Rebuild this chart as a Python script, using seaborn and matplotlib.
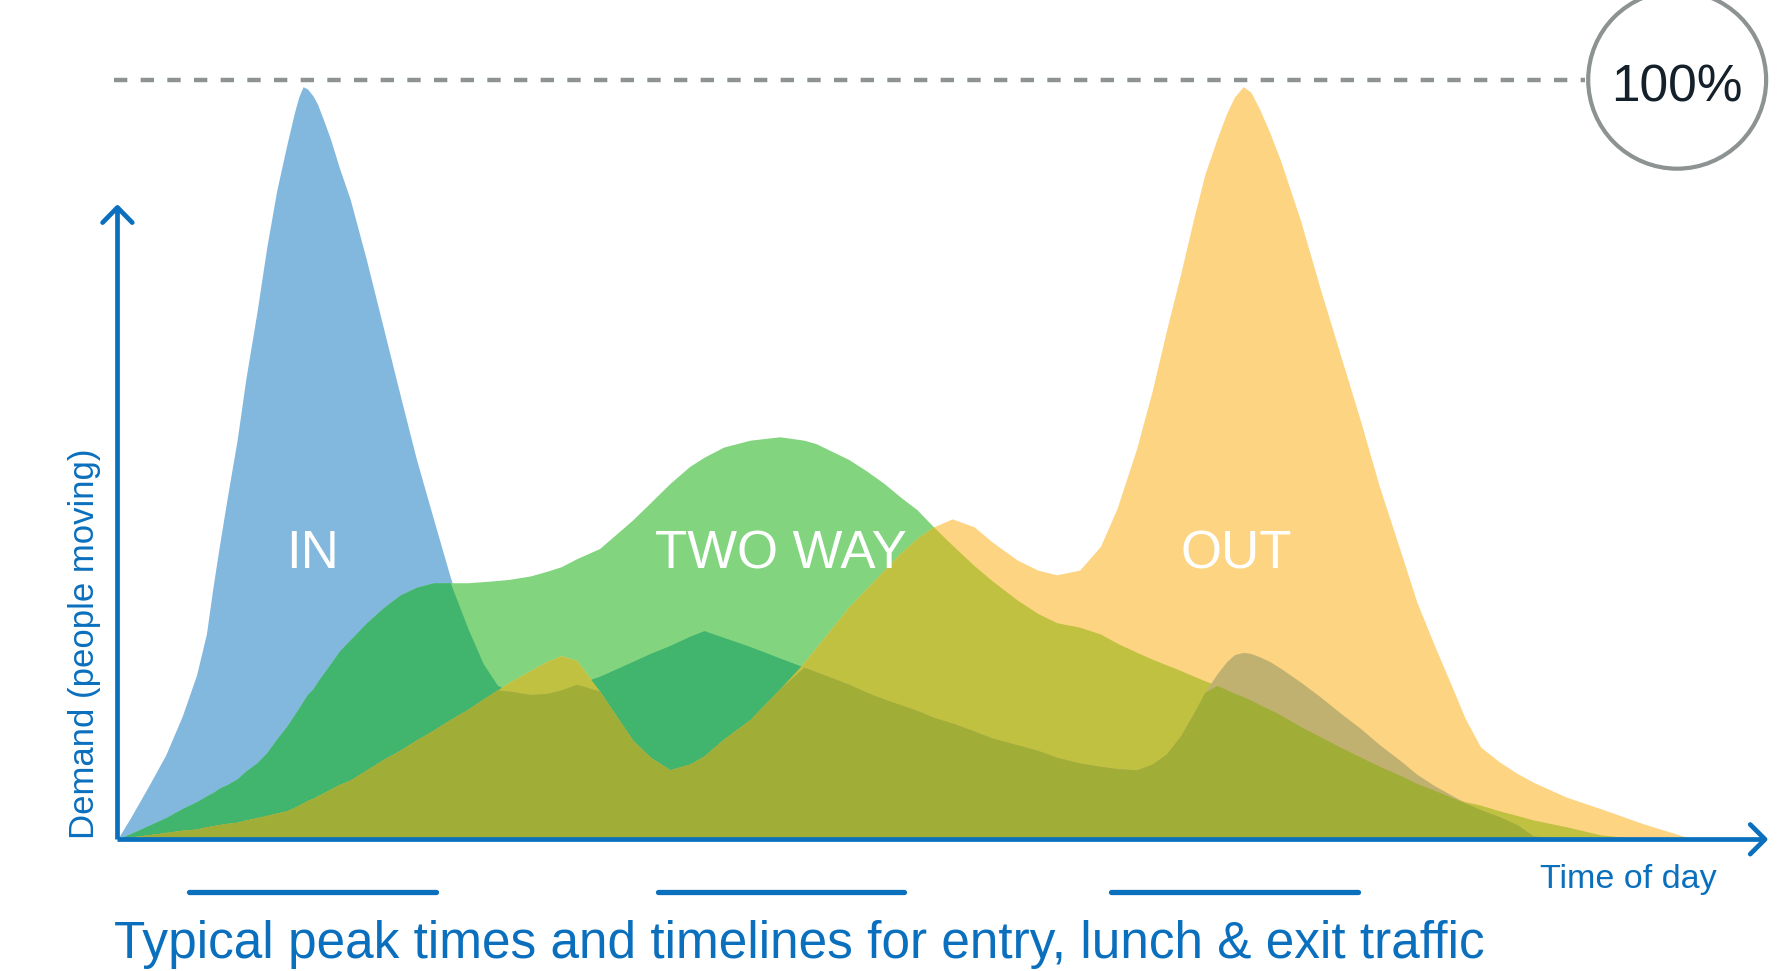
import matplotlib
matplotlib.use("Agg")
import matplotlib.pyplot as plt
from matplotlib.patches import Ellipse
import numpy as np
import pandas as pd
import seaborn as sns

# time of day (hours) shared by the three demand curves
HOURS = [6.00, 6.12, 6.28, 6.44, 6.59, 6.72, 6.81, 6.87, 6.93, 7.00,
         7.09, 7.17, 7.27, 7.36, 7.45, 7.54, 7.61, 7.65, 7.69, 7.73,
         7.78, 7.82, 7.88, 7.94, 8.02, 8.12, 8.27, 8.42, 8.57, 8.72,
         8.88, 9.03, 9.19, 9.33, 9.46, 9.57, 9.76, 9.91, 10.04, 10.18,
         10.39, 10.69, 10.85, 11.03, 11.21, 11.34, 11.52, 11.76, 12.03, 12.25,
         12.36, 12.66, 12.82, 12.98, 13.13, 13.28, 13.43, 13.60, 13.80, 13.96,
         14.19, 14.38, 14.55, 14.76, 14.95, 15.10, 15.28, 15.42, 15.55, 15.68,
         15.80, 15.90, 16.01, 16.10, 16.17, 16.25, 16.32, 16.40, 16.49, 16.59,
         16.77, 16.95, 17.13, 17.32, 17.49, 17.68, 17.83, 17.99, 18.14, 18.27,
         18.41, 18.58, 18.74, 18.89, 19.19, 19.50, 19.88, 20.35, 21.00]

# demand, % of the 100 % line
IN_DEMAND = [0, 2.85, 6.91, 11.11, 16.22, 21.62, 27.03, 33.2, 38.8, 45.0,
             52.6, 60.7, 69.4, 78.0, 85.4, 91.3, 95.6, 97.7, 99.10, 98.80,
             97.90, 96.85, 94.59, 92.19, 88.44, 84.23, 76.13, 67.42, 58.71, 50.15,
             42.04, 34.53, 27.78, 23.12, 20.27, 19.52, 19.07, 19.22, 19.67, 20.42,
             21.47, 23.42, 24.47, 25.53, 26.73, 27.48, 26.58, 25.38, 23.87, 22.67,
             22.07, 20.42, 19.37, 18.47, 17.72, 16.97, 16.07, 15.32, 14.26, 13.36,
             12.46, 11.71, 10.81, 10.06, 9.61, 9.31, 9.16, 9.91, 11.26, 13.66,
             16.67, 19.37, 21.77, 23.42, 24.32, 24.62, 24.47, 24.02, 23.42, 22.52,
             20.72, 18.77, 16.67, 14.56, 12.46, 10.36, 8.56, 7.06, 5.86, 4.80,
             3.90, 3.00, 1.95, 0.45, 0, 0, 0, 0, 0]
TWO_WAY_DEMAND = [0, 0.75, 1.80, 2.85, 4.05, 4.95, 5.71, 6.16, 6.76, 7.21,
                  7.96, 9.01, 10.06, 11.41, 13.21, 14.86, 16.37, 17.27, 18.17, 19.07,
                  19.82, 20.72, 21.92, 23.12, 24.77, 26.28, 28.53, 30.48, 32.13, 33.18,
                  33.78, 33.78, 33.78, 33.93, 34.08, 34.23, 34.68, 35.29, 35.89, 36.94,
                  38.29, 42.04, 44.29, 46.85, 49.10, 50.30, 51.65, 52.55, 53.00, 52.55,
                  52.10, 50.00, 48.50, 46.85, 45.05, 43.39, 41.14, 38.74, 36.04, 34.08,
                  31.53, 29.73, 28.53, 27.93, 27.03, 25.83, 24.62, 23.72, 22.97, 22.22,
                  21.47, 20.87, 20.27, 19.67, 19.22, 18.77, 18.32, 17.72, 17.12, 16.37,
                  14.86, 13.51, 12.16, 10.81, 9.61, 8.41, 7.36, 6.46, 5.56, 4.95,
                  4.50, 3.75, 3.15, 2.55, 1.65, 0.60, 0, 0, 0]
OUT_DEMAND = [0, 0.30, 0.60, 0.90, 1.20, 1.35, 1.65, 1.80, 1.95, 2.10,
              2.25, 2.55, 2.85, 3.15, 3.45, 3.75, 4.20, 4.50, 4.80, 5.11,
              5.41, 5.71, 6.16, 6.61, 7.21, 7.81, 9.16, 10.51, 11.71, 13.06,
              14.41, 15.77, 17.12, 18.47, 19.67, 20.72, 22.22, 23.42, 24.17, 23.57,
              19.52, 13.06, 10.81, 9.16, 9.91, 10.96, 13.21, 15.77, 19.82, 23.27,
              25.23, 30.63, 33.03, 35.44, 37.69, 39.64, 41.14, 42.19, 41.14, 39.19,
              36.79, 35.44, 34.83, 35.44, 38.59, 43.54, 51.50, 59.01, 66.97, 74.47,
              81.83, 87.54, 92.19, 95.65, 97.75, 99.10, 98.35, 96.10, 93.09, 89.34,
              81.53, 72.52, 63.96, 54.95, 46.40, 37.99, 31.23, 25.53, 20.42, 15.92,
              12.16, 10.21, 8.71, 7.51, 5.56, 4.05, 2.10, 0, 0]

LABELS = ["IN", "TWO WAY", "OUT"]
LABEL_HOURS = [7.78, 12.04, 16.19]
TIMELINE_START = [6.65, 10.92, 15.05]
TIMELINE_END = [8.90, 13.16, 17.29]

AXIS_BLUE = "#0a6fbd"
GREY = "#8d9293"
COLORS = {
    "B": "#82b8de", "G": "#82d47f", "Y": "#fdd482",
    "BG": "#41b46d", "GY": "#c0c141", "BY": "#c0b170", "BGY": "#a0ae37",
}

sns.set_theme(style="white")
plt.rcParams["font.family"] = ["Liberation Sans", "DejaVu Sans"]

fig = plt.figure(figsize=(17.88, 9.71), dpi=100)
ax = fig.add_axes([0, 0, 1, 1])

x = np.array(HOURS)
curves = {"B": np.array(IN_DEMAND), "G": np.array(TWO_WAY_DEMAND), "Y": np.array(OUT_DEMAND)}

# single shapes first, then the overlaps painted over them
for key in ["B", "G", "Y", "BG", "GY", "BY", "BGY"]:
    top = np.min([curves[k] for k in key], axis=0)
    ax.fill_between(x, 0, top, color=COLORS[key], linewidth=0, zorder=2)

for label, hx in zip(LABELS, LABEL_HOURS):
    ax.text(hx, 35.7, label, color="white", fontsize=38, ha="center", va="baseline", zorder=5)

# axes with open arrow heads
ax.plot([6, 6], [0, 83.2], color=AXIS_BLUE, lw=3.4, solid_capstyle="butt", zorder=6)
ax.plot([6, 21.0], [0, 0], color=AXIS_BLUE, lw=3.4, solid_capstyle="butt", zorder=6)
ax.plot([5.865, 6, 6.135], [81.2, 83.2, 81.2], color=AXIS_BLUE, lw=3.4, zorder=6)
ax.plot([20.865, 21.0, 20.865], [1.95, 0, -1.95], color=AXIS_BLUE, lw=3.4, zorder=6)

# 100 % reference
ax.plot([5.97, 19.36], [100, 100], color=GREY, lw=3.2, linestyle=(0, (3, 3)),
        dash_capstyle="butt", zorder=1)
ax.add_patch(Ellipse((20.20, 100), 1.62, 23.4, fill=False, edgecolor=GREY, lw=3.0, zorder=6))
ax.text(20.20, 97.2, "100%", color="#14202a", fontsize=37, ha="center", va="baseline", zorder=7)

# timelines under the x axis
timelines = pd.DataFrame({
    "hour": TIMELINE_START + TIMELINE_END,
    "level": [-6.9] * 6,
    "phase": LABELS + LABELS,
})
sns.lineplot(data=timelines, x="hour", y="level", units="phase", estimator=None,
             color=AXIS_BLUE, lw=3.8, ax=ax, legend=False)

ax.text(5.70, 0, "Demand (people moving)", color=AXIS_BLUE, fontsize=25,
        rotation=90, ha="center", va="bottom")
ax.text(20.56, -6.4, "Time of day", color=AXIS_BLUE, fontsize=24.5, ha="right", va="baseline")
ax.text(5.97, -15.6, "Typical peak times and timelines for entry, lunch & exit traffic",
        color=AXIS_BLUE, fontsize=37, ha="left", va="baseline")

ax.set_xlim(4.931, 21.209)
ax.set_ylim(-17.34, 110.51)
ax.axis("off")

fig.savefig("out.png", dpi=100)
plt.close(fig)
